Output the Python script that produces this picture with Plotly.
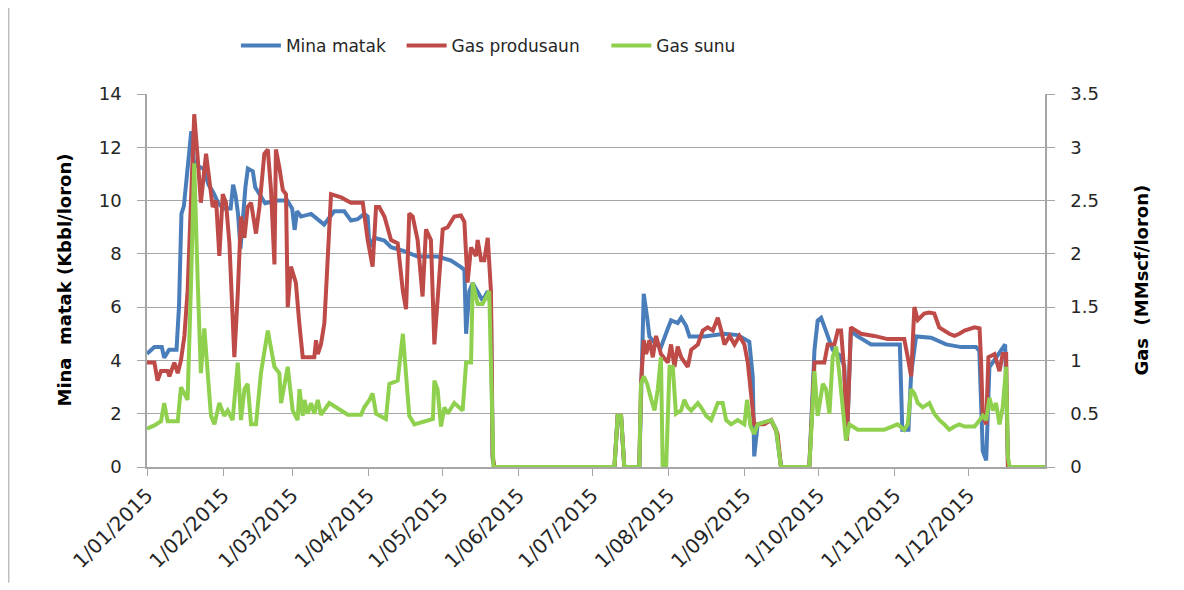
import pandas as pd
import plotly.graph_objects as go

# day offsets from 1 Jan 2015 and values
mina_days = [0, 3, 6, 7, 9, 12, 13, 14, 15, 17, 18, 19, 20, 23, 25, 27, 29, 31, 34, 35, 36, 37, 38, 40, 41,
             43, 44, 46, 48, 53, 57, 59, 60, 61, 62.6, 66.7, 69.4, 72, 76.1, 80.2, 82.9, 85.6, 88.3, 89.7,
             90.4, 92.4, 96.5, 99.2, 104.6, 110, 118.1, 123.6, 127.6, 129, 129.7, 131, 132.4, 134.4, 136.4,
             138.5, 139.8, 140.5, 141.2, 190, 191.3, 192.7, 194, 200.1, 200.8, 201.9, 203.3, 204.2, 206.9,
             208.9, 211.7, 213, 215.7, 217.1, 219.1, 220.5, 226.5, 234.7, 240.1, 244.8, 246.2, 246.8, 248.2,
             253.7, 255.7, 257.7, 269.2, 271.3, 272.6, 274, 276, 278.7, 281.4, 283.4, 284.5, 286.1, 288.9,
             294.3, 303.8, 306, 307, 309.5, 310.6, 312.6, 318.7, 324.8, 330.9, 337, 338.3, 339.7, 341.1,
             342.4, 345.1, 347.8, 348.8, 350, 365]
mina_vals = [4.25, 4.5, 4.5, 4.1, 4.4, 4.4, 6.0, 9.5, 9.8, 11.5, 12.6, 11.5, 11.3, 11.2, 10.6, 10.3, 9.9, 9.7,
             9.7, 10.6, 10.2, 9.5, 8.2, 10.5, 11.2, 11.1, 10.5, 10.2, 9.9, 10.0, 10.0, 9.7, 8.9, 9.6, 9.4, 9.5,
             9.3, 9.1, 9.6, 9.6, 9.25, 9.3, 9.5, 9.4, 8.25, 8.6, 8.5, 8.25, 8.1, 7.9, 7.9, 7.75, 7.5, 7.4, 5.0,
             6.6, 6.9, 6.6, 6.25, 6.6, 6.0, 0.3, 0, 0, 1.9, 1.9, 0, 0, 3.1, 6.5, 5.6, 4.9, 4.6, 4.5, 5.2, 5.5,
             5.4, 5.6, 5.3, 4.9, 4.9, 5.0, 4.95, 4.7, 3.4, 0.4, 1.6, 1.75, 1.4, 0, 0, 4.4, 5.5, 5.6, 5.1, 4.4,
             4.2, 3.8, 1.0, 5.1, 4.9, 4.6, 4.6, 4.6, 1.4, 1.4, 3.5, 4.9, 4.85, 4.6, 4.5, 4.5, 4.35, 0.6, 0.25,
             3.75, 4.1, 4.5, 4.6, 0, 0]

prod_days = [0, 3, 4.3, 5.7, 8.4, 9.1, 11.1, 12.5, 13.8, 15.2, 16.5, 17.9, 19.2, 20.6, 21.9, 24, 25.3, 26.7,
             28.1, 29.4, 30.8, 32.1, 33.5, 35.5, 36.9, 38.2, 39.6, 40.9, 42.3, 44.3, 45.7, 47.7, 49.1, 50.4,
             51.8, 52.4, 53.8, 55.2, 56.5, 57.2, 58.5, 60.5, 61.9, 63.3, 68, 68.7, 69.4, 70.7, 72.1, 73.4,
             74.8, 78.9, 82.9, 87.7, 89.7, 91.7, 93.1, 94.4, 96.5, 99.2, 101.9, 104, 105.3, 106.6, 108, 110,
             112, 113.4, 115.4, 116.8, 118.1, 120.2, 122.2, 124.9, 127.6, 129, 130.3, 131.7, 133.7, 134.4,
             135.8, 137.1, 138.5, 139.8, 140.5, 141.2, 190, 191.3, 192.7, 194, 200.1, 200.8, 201.9, 202.9,
             204.2, 205.6, 206.9, 208.3, 208.9, 211.7, 213, 214.4, 215.7, 217.1, 219.8, 221.2, 223.9, 225.9,
             227.9, 230, 232, 233.4, 234.7, 236.8, 238.8, 240.8, 242.8, 244.2, 245.5, 246.8, 250.9, 253.7,
             256.3, 257.7, 269.2, 271.3, 275.3, 276.7, 279.4, 280.8, 282.1, 283.4, 284.5, 285.5, 286.1, 290.2,
             295.6, 301, 307.8, 309.2, 310.6, 311.9, 313.3, 315.9, 317.9, 320, 322, 326.1, 328.2, 330.2,
             332.3, 336.4, 338.4, 339, 339.7, 341.1, 342, 344.5, 346.5, 347.8, 349.2, 349.9, 365]
prod_vals = [0.98, 0.98, 0.81, 0.9, 0.9, 0.85, 0.98, 0.88, 1.0, 1.23, 1.65, 2.6, 3.31, 2.9, 2.48, 2.94, 2.69,
             2.44, 2.5, 1.98, 2.56, 2.48, 2.1, 1.03, 1.63, 2.35, 2.15, 2.44, 2.48, 2.19, 2.44, 2.94, 2.98, 2.6,
             1.9, 2.98, 2.81, 2.6, 2.56, 1.5, 1.88, 1.73, 1.35, 1.03, 1.03, 1.19, 1.06, 1.15, 1.35, 2.03, 2.56,
             2.53, 2.48, 2.48, 2.13, 1.88, 2.44, 2.44, 2.35, 2.13, 2.1, 1.65, 1.48, 2.38, 2.35, 2.13, 1.6, 2.23,
             2.13, 1.15, 1.56, 2.23, 2.25, 2.35, 2.36, 2.3, 1.73, 2.06, 1.98, 2.13, 1.94, 1.94, 2.15, 1.65, 0.1,
             0, 0, 0.48, 0.48, 0, 0, 0.78, 1.19, 1.06, 1.19, 1.03, 1.23, 1.13, 1.06, 0.98, 1.15, 0.94, 1.13,
             1.03, 0.94, 1.1, 1.15, 1.28, 1.31, 1.28, 1.4, 1.28, 1.15, 1.23, 1.15, 1.23, 1.15, 0.98, 0.65, 0.4,
             0.4, 0.44, 0.31, 0, 0, 0.98, 0.98, 1.15, 1.15, 1.28, 1.28, 0.9, 0.25, 1.0, 1.31, 1.25, 1.23, 1.2,
             1.2, 1.03, 0.85, 1.5, 1.38, 1.44, 1.45, 1.44, 1.31, 1.25, 1.23, 1.25, 1.28, 1.31, 1.3, 1.0, 0.48,
             0.4, 1.03, 1.06, 0.9, 1.06, 1.06, 0, 0]

sunu_days = [0, 3, 5.7, 7, 8.4, 12.5, 13.8, 16.5, 17.9, 19.2, 20.6, 21.9, 23.3, 24.7, 26, 27.4, 29.4, 31.4,
             32.8, 34.8, 36.9, 38.2, 39.6, 40.9, 42.3, 44.3, 46.3, 49.1, 51.8, 53.8, 54.5, 57.2, 59.2, 61.2,
             62, 63.3, 64, 65.3, 66.7, 68, 69.4, 70.7, 74.1, 78.9, 81.6, 87, 88.3, 90.4, 91.7, 93.1, 97.1,
             98.5, 101.9, 104, 105.3, 106.6, 108.7, 114.2, 116.2, 116.8, 118.1, 119.5, 120.9, 122.2, 124.9,
             128.3, 129.7, 131.7, 132.4, 134.4, 136.4, 139.1, 140.1, 140.8, 190, 191.3, 192.7, 194, 200.1,
             200.8, 201.9, 203.3, 205, 206.3, 207.6, 208.9, 209.6, 211, 212.4, 213.7, 215, 217.1, 218.4,
             219.8, 221.2, 223.9, 225.2, 227.3, 229.3, 232, 234, 235.4, 237.4, 240.1, 242.8, 243.9, 245.3,
             246.8, 248.2, 253.7, 255.7, 257.7, 269.2, 271.3, 272.6, 274.7, 276, 277.4, 278.7, 280.1, 281.4,
             282.8, 284.1, 285.5, 288.9, 294.3, 299.7, 305.1, 307.8, 309.2, 310.6, 311.9, 313.3, 315.3, 318,
             320, 322.1, 324.1, 326.1, 328.2, 330.2, 332.3, 336.4, 338.4, 339.7, 341.1, 342.4, 343.8, 345.1,
             346.5, 347.8, 349.2, 349.9, 350.6, 365]
sunu_vals = [0.36, 0.39, 0.43, 0.6, 0.43, 0.43, 0.75, 0.63, 1.73, 2.85, 1.75, 0.88, 1.3, 0.85, 0.48, 0.4, 0.6,
             0.48, 0.53, 0.44, 0.98, 0.44, 0.73, 0.78, 0.4, 0.4, 0.88, 1.28, 0.94, 0.88, 0.6, 0.94, 0.53, 0.44,
             0.73, 0.48, 0.63, 0.5, 0.6, 0.5, 0.63, 0.49, 0.6, 0.53, 0.49, 0.49, 0.56, 0.63, 0.69, 0.5, 0.45,
             0.78, 0.81, 1.25, 0.88, 0.48, 0.4, 0.44, 0.45, 0.81, 0.73, 0.38, 0.56, 0.5, 0.6, 0.53, 0.98, 0.98,
             1.73, 1.53, 1.53, 1.65, 0.75, 0, 0, 0.48, 0.48, 0, 0, 0.78, 0.85, 0.78, 0.63, 0.53, 0.73, 1.03,
             0, 0, 0.94, 0.94, 0.5, 0.53, 0.63, 0.56, 0.53, 0.6, 0.56, 0.48, 0.44, 0.6, 0.6, 0.44, 0.4, 0.44,
             0.4, 0.63, 0.38, 0.31, 0.4, 0.44, 0.35, 0, 0, 0.9, 0.48, 0.78, 0.73, 0.5, 1.03, 1.13, 0.88, 0.53,
             0.25, 0.4, 0.35, 0.35, 0.35, 0.4, 0.35, 0.4, 0.73, 0.69, 0.6, 0.56, 0.6, 0.5, 0.44, 0.4, 0.35,
             0.38, 0.4, 0.38, 0.38, 0.44, 0.48, 0.44, 0.65, 0.53, 0.6, 0.4, 0.56, 0.94, 0.1, 0, 0]

month_ticks = ["2015-%02d-01" % m for m in range(1, 13)]
month_labels = ["1/%02d/2015" % m for m in range(1, 13)]

start = pd.Timestamp("2015-01-01")


def to_dates(days):
    return start + pd.to_timedelta(days, unit="D")


font = "DejaVu Sans"
grey = "#a6a6a6"
nb = "\u00a0\u00a0"  # a little extra room between legend entries

fig = go.Figure()
fig.add_trace(go.Scatter(x=to_dates(mina_days), y=mina_vals, name="Mina matak" + nb, mode="lines",
                         line=dict(color="#4a7ebb", width=4)))
fig.add_trace(go.Scatter(x=to_dates(prod_days), y=prod_vals, name="Gas produsaun" + nb + nb, mode="lines",
                         yaxis="y2", line=dict(color="#be4b48", width=4)))
fig.add_trace(go.Scatter(x=to_dates(sunu_days), y=sunu_vals, name="Gas sunu", mode="lines",
                         yaxis="y2", line=dict(color="#8fd14f", width=4)))

# page body has an 8px margin, so the figure is a bit smaller than the window
fig.update_layout(
    width=1176, height=582,
    margin=dict(l=139, r=139, t=86, b=123),
    paper_bgcolor="white", plot_bgcolor="white",
    font=dict(family=font, size=18, color="#262626"),
    showlegend=True,
    legend=dict(orientation="h", x=0.099, xanchor="left", y=1.129, yanchor="middle",
                font=dict(size=17), itemwidth=40, bgcolor="rgba(0,0,0,0)"),
    xaxis=dict(type="date", range=["2015-01-01", "2016-01-01"], tickvals=month_ticks,
               ticktext=month_labels, tickangle=-45, tickfont=dict(size=20),
               showgrid=False, showline=True, linecolor=grey, linewidth=1.5,
               ticks="outside", ticklen=7, tickcolor=grey, zeroline=False, automargin=False),
    yaxis=dict(range=[0, 14], dtick=2, showgrid=True, gridcolor=grey, gridwidth=1,
               showline=True, linecolor=grey, linewidth=1.5, ticks="outside", ticklen=8,
               tickcolor=grey, zeroline=False, ticklabelstandoff=12, automargin=False),
    yaxis2=dict(range=[0, 3.5], dtick=0.5, overlaying="y", side="right", showgrid=False,
                showline=True, linecolor=grey, linewidth=1.5, ticks="outside", ticklen=8,
                tickcolor=grey, zeroline=False, ticklabelstandoff=12, automargin=False),
)

fig.add_annotation(text="<b>Mina  matak (Kbbl/loron)</b>", textangle=-90, xref="paper", yref="paper",
                   x=-0.0924, y=0.5, showarrow=False, font=dict(size=18, family=font, color="black"),
                   xanchor="center", yanchor="middle")
fig.add_annotation(text="<b>Gas  (MMscf/loron)</b>", textangle=-90, xref="paper", yref="paper",
                   x=1.107, y=0.5, showarrow=False, font=dict(size=18, family=font, color="black"),
                   xanchor="center", yanchor="middle")

# thin frame line on the left edge of the chart area
fig.add_shape(type="line", xref="paper", yref="paper", x0=-0.1540, x1=-0.1540, y0=-0.31, y1=1.25,
              line=dict(color="#bfbfbf", width=1.5))

fig.write_html("out.html")
